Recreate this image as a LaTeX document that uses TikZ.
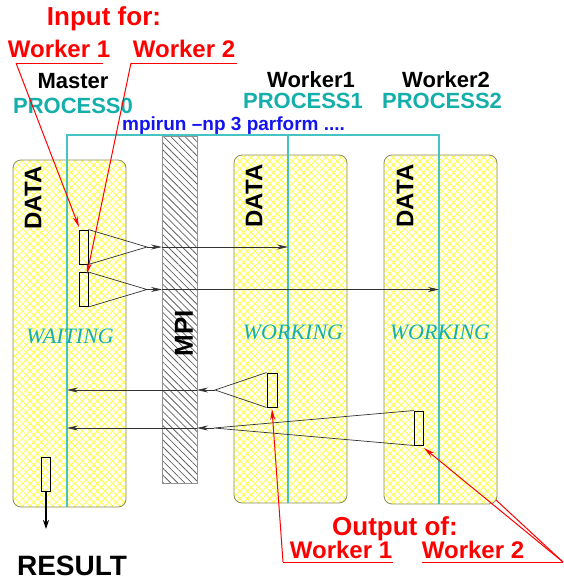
\documentclass[tikz,border=0pt]{standalone}
\usepackage{fontspec}
\setmainfont{Liberation Serif}
\setsansfont{Liberation Sans}
\usetikzlibrary{arrows.meta,patterns.meta}
\definecolor{proc}{RGB}{20,175,170}
\definecolor{procl}{RGB}{70,195,195}
\definecolor{hatchy}{RGB}{255,255,80}
\definecolor{boxedge}{RGB}{140,140,90}
\definecolor{mpiline}{RGB}{100,100,100}
\definecolor{conn}{RGB}{50,50,50}
\definecolor{mpiblue}{RGB}{20,20,240}
\newcommand{\fs}[1]{\fontsize{#1}{#1}\selectfont}
\begin{document}
\begin{tikzpicture}[x=1pt,y=-1pt,
  databox/.style={draw=boxedge, line width=0.8pt, rounded corners=8pt, inner sep=0pt,
    preaction={fill=white},
    preaction={pattern={Lines[angle=45,distance=5.3pt,line width=0.9pt]},pattern color=hatchy},
    preaction={pattern={Lines[angle=-45,distance=5.3pt,line width=0.9pt]},pattern color=hatchy}},
  mpibar/.style={draw=mpiline!70, line width=0.8pt, inner sep=0pt,
    preaction={fill=white},
    preaction={pattern={Lines[angle=-45,distance=5pt,line width=0.8pt]},pattern color=mpiline}},
  procline/.style={draw=procl, line width=1.4pt},
  blk/.style={draw=black, line width=0.9pt, minimum width=9pt, minimum height=34pt, inner sep=0pt},
  conn/.style={draw=conn, line width=0.7pt},
  tip/.style={-{Stealth[length=11pt,width=5pt]}},
  redl/.style={draw=red, line width=1pt},
  redtip/.style={redl,-{Stealth[length=11pt,width=5pt]}},
  lab/.style={font=\sffamily\bfseries\fs{22}, anchor=base, inner sep=0pt},
  plab/.style={font=\sffamily\bfseries\fs{22}, text=proc, anchor=base, inner sep=0pt},
  rlab/.style={font=\sffamily\bfseries\fs{24}, text=red, anchor=base, inner sep=0pt},
  datalab/.style={font=\sffamily\bfseries\fs{24}, rotate=90, inner sep=0pt},
  state/.style={font=\itshape\fs{22}, text=proc, anchor=base, inner sep=0pt}
]
\useasboundingbox (0,0) rectangle (563,581);

% process boxes
\node[databox, minimum width=113pt, minimum height=347pt] (mbox) at (69.5,333.5) {};
\node[databox, minimum width=113pt, minimum height=348pt] (w1box) at (290.5,329) {};
\node[databox, minimum width=113pt, minimum height=349pt] (w2box) at (440.5,329.5) {};
% MPI bar
\node[mpibar, minimum width=35pt, minimum height=347pt] (mpi) at (179.5,309.5) {};
\node[font=\sffamily\bfseries\fs{26}, rotate=90, inner sep=0pt] (mpitxt) at (184,333) {MPI};

% process lines
\coordinate (t0) at (67,135);
\coordinate (t1) at (288,135);
\coordinate (t2) at (439,135);
\coordinate (t0b) at (67,507);
\coordinate (t1b) at (288,503);
\coordinate (t2b) at (439,504);
\draw[procline] (t0b) -- (t0) -- (t2) -- (t2b);
\draw[procline] (t1) -- (t1b);

% header labels
\node[lab] (master) at (73,88) {Master};
\node[lab] (worker1) at (311,87) {Worker1};
\node[lab] (worker2) at (446,87) {Worker2};
\node[plab] (p0) at (73,113) {PROCESS0};
\node[plab] (p1) at (303,108) {PROCESS1};
\node[plab] (p2) at (442,108) {PROCESS2};
\node[font=\sffamily\bfseries\fs{19}, text=mpiblue, anchor=base west, inner sep=0pt] (cmd) at (122,130) {mpirun –np 3 parform ....};

% DATA labels and states
\node[datalab] (d0) at (33,198) {DATA};
\node[datalab] (d1) at (254,196) {DATA};
\node[datalab] (d2) at (405,196) {DATA};
\node[state] (s0) at (70,343) {WAITING};
\node[state] (s1) at (293,339) {WORKING};
\node[state] (s2) at (440,339) {WORKING};

% data blocks
\node[blk] (b1) at (83.5,247) {};
\node[blk] (b2) at (83.5,289.5) {};
\node[blk, minimum width=10pt] (o1) at (272,390) {};
\node[blk] (o2) at (418.5,428) {};
\node[blk] (res) at (46,474) {};

% apex and arrow points
\coordinate (a1) at (147,247);
\coordinate (a2) at (147,289.5);
\coordinate (a3) at (215,390);
\coordinate (a4) at (214,428);
\coordinate (m1) at (162,247);
\coordinate (m2) at (162,289.5);
\coordinate (m3) at (197,390);
\coordinate (m4) at (197,428);
\coordinate (e1) at (288,247);
\coordinate (e2) at (439,289.5);
\coordinate (e3) at (67,390);
\coordinate (e4) at (67,428);
\coordinate (rend) at (46,529);

\draw[conn] (b1.north east) -- (a1) -- (b1.south east);
\draw[conn] (b2.north east) -- (a2) -- (b2.south east);
\draw[conn] (o1.north west) -- (a3) -- (o1.south west);
\draw[conn] (o2.north west) -- (a4) -- (o2.south west);
\draw[conn,tip] (a1) -- (m1);
\draw[conn,tip] (m1) -- (e1);
\draw[conn,tip] (a2) -- (m2);
\draw[conn,tip] (m2) -- (e2);
\draw[conn,tip] (a3) -- (m3);
\draw[conn,tip] (m3) -- (e3);
\draw[conn,tip] (a4) -- (m4);
\draw[conn,tip] (m4) -- (e4);
\draw[line width=1.2pt, -{Stealth[length=9pt,width=6pt]}] (res.south) -- (rend);

\node[font=\sffamily\bfseries\fs{28}, anchor=base, inner sep=0pt] (result) at (72,575) {RESULT};

% red annotations top
\node[rlab, font=\sffamily\bfseries\fs{26}] (infor) at (104,25) {Input for:};
\node[rlab] (iw1) at (59,57) {Worker 1};
\node[rlab] (iw2) at (184,57) {Worker 2};
\coordinate (u1l) at (16,63);
\coordinate (u1r) at (103,63);
\coordinate (u2l) at (131,63);
\coordinate (u2r) at (237,63);
\coordinate (tipb1) at (79,227);
\coordinate (tipb2) at (87,274);
\draw[redl] (u1l) -- (u1r);
\draw[redl] (u2l) -- (u2r);
\draw[redtip] (u1l) -- (tipb1);
\draw[redtip] (u2l) -- (tipb2);

% red annotations bottom
\node[rlab, font=\sffamily\bfseries\fs{26}] (outof) at (395,535) {Output of:};
\node[rlab] (ow1) at (341,558) {Worker 1};
\node[rlab] (ow2) at (473,558) {Worker 2};
\coordinate (v1l) at (283,562);
\coordinate (v1r) at (393,562);
\coordinate (v2l) at (422,562);
\coordinate (v2r) at (563,562);
\coordinate (tipo1) at (272,409);
\coordinate (tipo2) at (424,448);
\coordinate (corner2) at (496,500);
\draw[redl] (v1l) -- (v1r);
\draw[redl] (v2l) -- (v2r);
\draw[redtip] (v1l) -- (tipo1);
\draw[redtip] (v2r) -- (tipo2);
\draw[redl] (v2r) -- (corner2);
\end{tikzpicture}
\end{document}
